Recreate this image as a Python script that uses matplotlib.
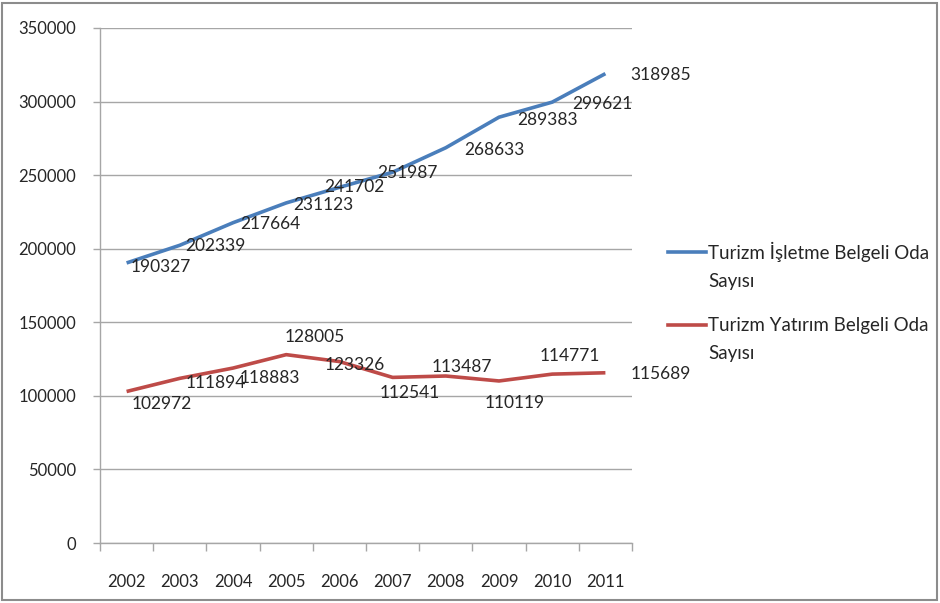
import matplotlib.pyplot as plt
import numpy as np
from matplotlib.lines import Line2D
from matplotlib.patches import Rectangle

years = ["2002", "2003", "2004", "2005", "2006", "2007", "2008", "2009", "2010", "2011"]
isletme = [190327, 202339, 217664, 231123, 241702, 251987, 268633, 289383, 299621, 318985]
yatirim = [102972, 111894, 118883, 128005, 123326, 112541, 113487, 110119, 114771, 115689]
series_names = ["Turizm İşletme Belgeli Oda\nSayısı", "Turizm Yatırım Belgeli Oda\nSayısı"]
colors = ['#4A7EBB', '#BE4B48']

# label offsets in pixels (dx, dy up)
isletme_off = [(34, -4), (36, -1), (37, -1), (37, -2), (15, 0), (15, -1), (49, -2), (49, -3), (50, -2), (55, -1)]
yatirim_off = [(35, -13), (36, -5), (37, -10), (29, 18), (15, -3), (17, -16), (16, 9), (16, -22), (18, 18), (55, -1)]

plt.rcParams['font.family'] = ['Lato', 'DejaVu Sans']
txt = '#262626'

W, H = 940, 603
fig = plt.figure(figsize=(W / 100, H / 100), dpi=100)
ax = fig.add_axes([100 / W, 1 - 543 / H, 532 / W, 515 / H])

x = np.arange(len(years))
for vals, offs, c in [(isletme, isletme_off, colors[0]), (yatirim, yatirim_off, colors[1])]:
    ax.plot(x, vals, color=c, lw=2.6, solid_joinstyle='round', solid_capstyle='butt')
    for xi, v, off in zip(x, vals, offs):
        ax.annotate(str(v), (xi, v), xytext=off, textcoords='offset pixels',
                    ha='center', va='center', fontsize=12.5, color=txt)

ax.set_xlim(-0.5, len(years) - 0.5)
ax.set_ylim(0, 350000)
ax.set_yticks(np.arange(0, 350001, 50000))
ax.set_yticklabels([str(v) for v in range(0, 350001, 50000)])
ax.set_xticks(x)
ax.set_xticklabels(years)
ax.set_xticks(np.arange(-0.5, len(years)), minor=True)
ax.tick_params(axis='x', which='major', length=0, pad=22, labelsize=12, colors=txt)
ax.tick_params(axis='x', which='minor', length=6, color='#a6a6a6', width=1)
ax.tick_params(axis='y', length=5, color='#a6a6a6', width=1, pad=12, labelsize=12, colors=txt)
ax.grid(axis='y', color='#a6a6a6', lw=1)
ax.set_axisbelow(True)
for s in ['top', 'right']:
    ax.spines[s].set_visible(False)
for s in ['left', 'bottom']:
    ax.spines[s].set_color('#a6a6a6')
    ax.spines[s].set_linewidth(1)

# legend, handle beside the first line of each two-line entry
for name, c, ytop in zip(series_names, colors, [252, 325]):
    fig.add_artist(Line2D([668 / W, 706 / W], [1 - ytop / H] * 2, color=c, lw=2.6,
                          transform=fig.transFigure))
    first, second = name.split("\n")
    fig.text(708 / W, 1 - ytop / H, first, ha='left', va='center', fontsize=13.5, color=txt)
    fig.text(708 / W, 1 - (ytop + 29) / H, second, ha='left', va='center', fontsize=13.5, color=txt)

fig.patches.append(Rectangle((2 / W, 3 / H), 935 / W, 597 / H, transform=fig.transFigure,
                             fill=False, edgecolor='#8c8c8c', lw=1.5))

fig.savefig('out.png', dpi=100)
